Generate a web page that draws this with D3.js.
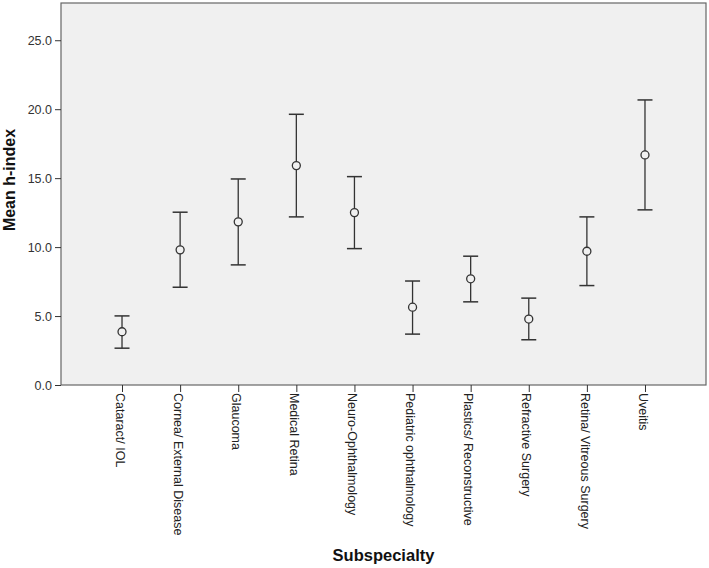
<!DOCTYPE html>
<html><head><meta charset="utf-8">
<script src="https://cdn.jsdelivr.net/npm/d3@7"></script>
<style>body{margin:0;background:#fff}svg{display:block}</style>
</head><body>
<script>
const categories = ["Cataract/ IOL","Cornea/ External Disease","Glaucoma","Medical Retina","Neuro-Ophthalmology","Pediatric ophthalmology","Plastics/ Reconstructive","Refractive Surgery","Retina/ Vitreous Surgery","Uveitis"];
const means = [3.86, 9.80, 11.83, 15.91, 12.50, 5.64, 7.70, 4.78, 9.70, 16.68];
const lower = [2.67, 7.09, 8.71, 12.19, 9.89, 3.69, 6.03, 3.28, 7.21, 12.70];
const upper = [5.01, 12.53, 14.94, 19.63, 15.11, 7.54, 9.34, 6.30, 12.19, 20.67];
const yTicks = [0, 5, 10, 15, 20, 25];

const W = 709, H = 568;
const L = 61, R = 706, T = 3, B = 385;
const svg = d3.select("body").append("svg").attr("width", W).attr("height", H);

const x = d3.scalePoint().domain(categories).range([L, R]).padding(1.05);
const y = d3.scaleLinear().domain([0, 27.7]).range([B, T]);

svg.append("rect").attr("x", L).attr("y", T).attr("width", R - L).attr("height", B - T)
  .attr("fill", "#f0f0f0").attr("stroke", "#666").attr("stroke-width", 1.2);

const yAxis = svg.append("g").attr("transform", `translate(${L},0)`)
  .call(d3.axisLeft(y).tickValues(yTicks).tickFormat(d3.format(".1f")).tickSize(6).tickPadding(3));
yAxis.select(".domain").remove();
yAxis.selectAll("line").attr("stroke", "#333");
yAxis.selectAll("text").attr("font-family", "Liberation Sans, Arial, sans-serif").attr("font-size", 12.5).attr("fill", "#333");

const xAxis = svg.append("g").attr("transform", `translate(0,${B})`)
  .call(d3.axisBottom(x).tickSize(7).tickPadding(0));
xAxis.select(".domain").remove();
xAxis.selectAll("line").attr("stroke", "#333");
xAxis.selectAll("text")
  .attr("font-family", "Liberation Sans, Arial, sans-serif").attr("font-size", 12.5).attr("fill", "#222")
  .attr("text-anchor", "start")
  .attr("transform", "rotate(90)")
  .attr("x", 8).attr("y", 0).attr("dy", "0.55em");

const g = svg.append("g");
const capW = 7.5;
categories.forEach((c, i) => {
  const cx = x(c);
  g.append("line").attr("x1", cx).attr("x2", cx).attr("y1", y(upper[i])).attr("y2", y(lower[i]))
    .attr("stroke", "#333").attr("stroke-width", 1.3);
  g.append("line").attr("x1", cx - capW).attr("x2", cx + capW).attr("y1", y(upper[i])).attr("y2", y(upper[i]))
    .attr("stroke", "#333").attr("stroke-width", 1.5);
  g.append("line").attr("x1", cx - capW).attr("x2", cx + capW).attr("y1", y(lower[i])).attr("y2", y(lower[i]))
    .attr("stroke", "#333").attr("stroke-width", 1.5);
  g.append("circle").attr("cx", cx).attr("cy", y(means[i])).attr("r", 4)
    .attr("fill", "#f0f0f0").attr("stroke", "#333").attr("stroke-width", 1.3);
});

svg.append("text").attr("transform", `translate(15,180) rotate(-90)`)
  .attr("text-anchor", "middle").attr("font-family", "Liberation Sans, Arial, sans-serif")
  .attr("font-weight", "bold").attr("font-size", 16).attr("fill", "#111").text("Mean h-index");
svg.append("text").attr("x", (L + R) / 2).attr("y", 561)
  .attr("text-anchor", "middle").attr("font-family", "Liberation Sans, Arial, sans-serif")
  .attr("font-weight", "bold").attr("font-size", 16.5).attr("fill", "#111").text("Subspecialty");
</script>
</body></html>
